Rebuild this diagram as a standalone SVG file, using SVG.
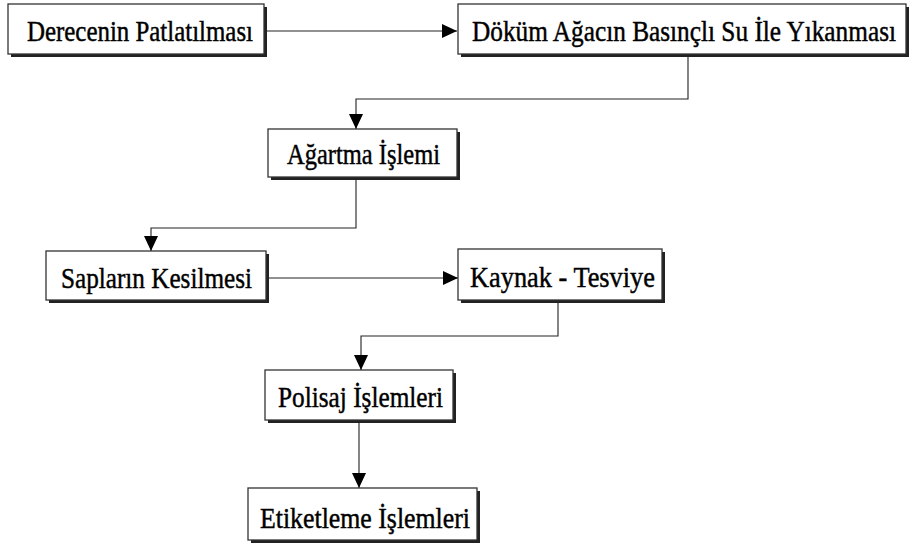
<svg xmlns="http://www.w3.org/2000/svg" width="911" height="546" viewBox="0 0 911 546">
<style>
.sh{fill:#222;stroke:none}
.bx{fill:#fff;stroke:#333;stroke-width:1.3}
.t{font-family:'Liberation Serif','DejaVu Serif','Times New Roman',serif;font-size:30px;fill:#000;stroke:#000;stroke-width:0.45}
.c{fill:none;stroke:#222;stroke-width:1.1}
</style>
<defs>
<marker id="ah" markerUnits="userSpaceOnUse" markerWidth="16" markerHeight="14" refX="15" refY="7" orient="auto">
<path d="M0,0 L15,7 L0,14 z" fill="#000"/>
</marker>
</defs>
<rect width="911" height="546" fill="#fff"/>
<g id="connectors">
<path class="c" d="M266,31 H457" marker-end="url(#ah)"/>
<path class="c" d="M688,57 V99 H356 V129" marker-end="url(#ah)"/>
<path class="c" d="M356,180 V228 H151 V251" marker-end="url(#ah)"/>
<path class="c" d="M268,278 H458" marker-end="url(#ah)"/>
<path class="c" d="M558,303 V336 H361 V370" marker-end="url(#ah)"/>
<path class="c" d="M359,423 V488" marker-end="url(#ah)"/>
</g>
<g id="n1">
<rect class="sh" x="11" y="7" width="256" height="50"/>
<rect class="bx" x="8" y="4" width="256" height="50"/>
<text class="t" x="27" y="41" textLength="226" lengthAdjust="spacingAndGlyphs">Derecenin Patlatılması</text>
</g>
<g id="n2">
<rect class="sh" x="461" y="7" width="448" height="50"/>
<rect class="bx" x="458" y="4" width="448" height="50"/>
<text class="t" x="472" y="41" textLength="424" lengthAdjust="spacingAndGlyphs">Döküm Ağacın Basınçlı Su İle Yıkanması</text>
</g>
<g id="n3">
<rect class="sh" x="271" y="132" width="189" height="48"/>
<rect class="bx" x="268" y="129" width="189" height="48"/>
<text class="t" x="287" y="164" textLength="153" lengthAdjust="spacingAndGlyphs">Ağartma İşlemi</text>
</g>
<g id="n4">
<rect class="sh" x="49" y="254" width="220" height="49"/>
<rect class="bx" x="46" y="251" width="220" height="49"/>
<text class="t" x="61" y="288" textLength="191" lengthAdjust="spacingAndGlyphs">Sapların Kesilmesi</text>
</g>
<g id="n5">
<rect class="sh" x="461" y="252" width="204" height="51"/>
<rect class="bx" x="458" y="249" width="204" height="51"/>
<text class="t" x="470" y="287" textLength="185" lengthAdjust="spacingAndGlyphs">Kaynak - Tesviye</text>
</g>
<g id="n6">
<rect class="sh" x="268" y="373" width="188" height="50"/>
<rect class="bx" x="265" y="370" width="188" height="50"/>
<text class="t" x="278" y="407" textLength="165" lengthAdjust="spacingAndGlyphs">Polisaj İşlemleri</text>
</g>
<g id="n7">
<rect class="sh" x="251" y="491" width="229" height="52"/>
<rect class="bx" x="248" y="488" width="229" height="52"/>
<text class="t" x="260" y="528" textLength="210" lengthAdjust="spacingAndGlyphs">Etiketleme İşlemleri</text>
</g>
</svg>
